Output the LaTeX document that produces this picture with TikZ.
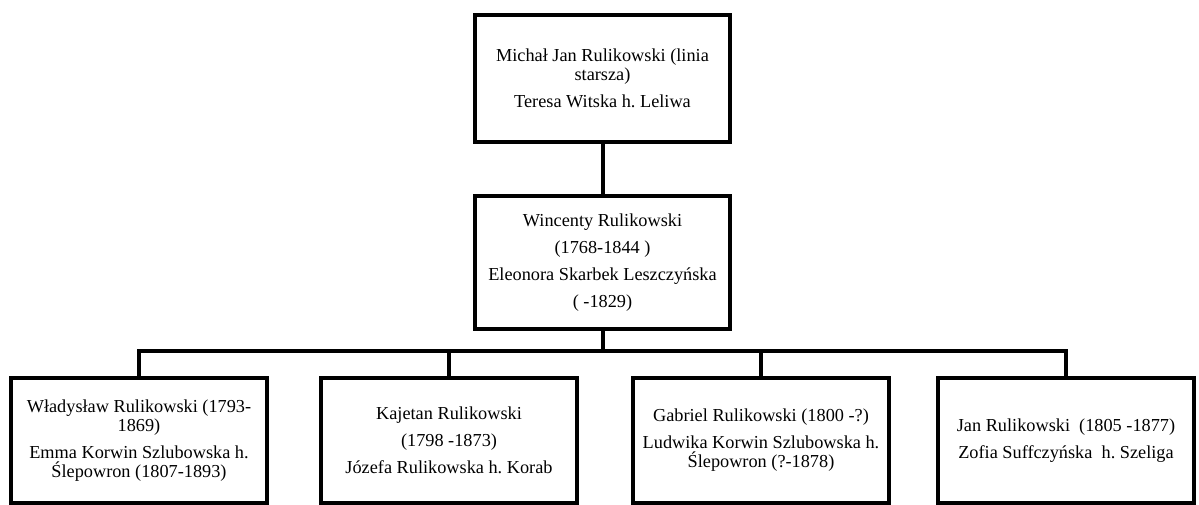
\documentclass[tikz,border=0pt]{standalone}
\usepackage{fontspec}
\setmainfont{Liberation Serif}
\frenchspacing

\begin{document}
\begin{tikzpicture}[
  x=0.025cm, y=-0.025cm,
  font=\fontsize{13}{13.6}\selectfont,
  person/.style={rectangle, draw=black, line width=0.1cm, fill=white, align=center,
                 minimum width=6.375cm, inner sep=0pt},
  child/.style={person, minimum width=6.4cm, minimum height=3.125cm},
  conn/.style={line width=0.1cm, draw=black},
]
\useasboundingbox (0,0) rectangle (1199,505);

\node[person, minimum height=3.175cm] (top) at (602.5,78.5)
  {Michał Jan Rulikowski (linia\\ starsza)\\[5.6pt] Teresa Witska h. Leliwa};
\node[person, minimum height=3.325cm] (mid) at (602.5,262.5)
  {Wincenty Rulikowski\\[5.6pt] (1768-1844 )\\[5.6pt] Eleonora Skarbek Leszczyńska\\[5.6pt] ( -1829)};

\node[child] (wladyslaw) at (139,440.5)
  {Władysław Rulikowski (1793-\\ 1869)\\[5.6pt] Emma Korwin Szlubowska h.\\ Ślepowron (1807-1893)};
\node[child] (kajetan) at (449,440.5)
  {Kajetan Rulikowski\\[5.6pt] (1798 -1873)\\[5.6pt] Józefa Rulikowska h. Korab};
\node[child] (gabriel) at (761,440.5)
  {Gabriel Rulikowski (1800 -?)\\[5.6pt] Ludwika Korwin Szlubowska h.\\ Ślepowron (?-1878)};
\node[child] (jan) at (1066,440.5)
  {Jan Rulikowski~ (1805 -1877)\\[5.6pt] Zofia Suffczyńska~ h. Szeliga};

% family lines
\coordinate (bus) at (602.5,351);
\draw[conn] (top) -- (mid);
\draw[conn] (mid) -- (bus);
\draw[conn] (bus) -| (wladyslaw.north);
\draw[conn] (bus) -| (kajetan.north);
\draw[conn] (bus) -| (gabriel.north);
\draw[conn] (bus) -| (jan.north);
\end{tikzpicture}
\end{document}
